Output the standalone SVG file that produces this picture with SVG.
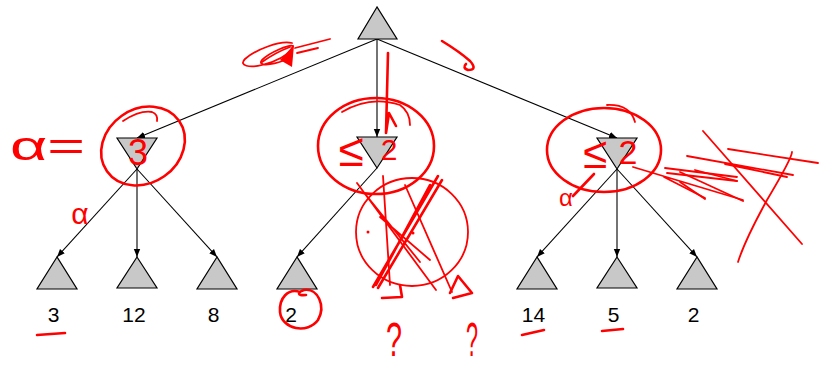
<svg xmlns="http://www.w3.org/2000/svg" width="819" height="369" viewBox="0 0 819 369">
<style>
.tri{fill:#c8c8c8;stroke:#000;stroke-width:1.2;stroke-linejoin:miter}
.edge{fill:none;stroke:#000;stroke-width:1.1;marker-end:url(#ah)}
.lbl{font-family:"Liberation Sans",Arial,sans-serif;font-size:21px;fill:#000;text-anchor:middle}
.ink{fill:none;stroke:#f00;stroke-width:2.6;stroke-linecap:round;stroke-linejoin:round}
.thin{fill:none;stroke:#f00;stroke-width:1.8;stroke-linecap:round;stroke-linejoin:round}
.hw{font-family:"Liberation Sans",Arial,sans-serif;fill:#f00}
</style>
<defs>
<marker id="ah" viewBox="0 0 10 10" refX="10" refY="5" markerWidth="8" markerHeight="8" markerUnits="userSpaceOnUse" orient="auto"><path d="M0,1 L10,5 L0,9 z" fill="#000"/></marker>
</defs>
<g id="connectors">
<line class="edge" x1="377" y1="39" x2="137" y2="138"/>
<line class="edge" x1="377" y1="39" x2="377" y2="137"/>
<line class="edge" x1="377" y1="39" x2="617" y2="138"/>
<line class="edge" x1="137" y1="169" x2="57" y2="257"/>
<line class="edge" x1="137" y1="169" x2="137" y2="257"/>
<line class="edge" x1="137" y1="169" x2="217" y2="257"/>
<line class="edge" x1="377" y1="168" x2="297" y2="257"/>
<line class="edge" x1="617" y1="169" x2="537" y2="257"/>
<line class="edge" x1="617" y1="169" x2="617" y2="257"/>
<line class="edge" x1="617" y1="169" x2="697" y2="257"/>
</g>
<g id="root"><polygon class="tri" points="377,7 358,39 397,39"/></g>
<g id="min-left"><polygon class="tri" points="117,138 157,138 137,169"/></g>
<g id="min-mid"><polygon class="tri" points="357,137 397,137 377,168"/></g>
<g id="min-right"><polygon class="tri" points="597,138 637,138 617,169"/></g>
<g id="leaf1"><polygon class="tri" points="57,257 37,289 77,289"/><text class="lbl" x="53.5" y="322">3</text></g>
<g id="leaf2"><polygon class="tri" points="137,257 117,288 157,288"/><text class="lbl" x="134" y="322">12</text></g>
<g id="leaf3"><polygon class="tri" points="217,257 197,289 237,289"/><text class="lbl" x="213.5" y="322">8</text></g>
<g id="leaf4"><polygon class="tri" points="297,257 277,289 317,289"/><text class="lbl" x="291" y="322">2</text></g>
<g id="leaf5"><polygon class="tri" points="537,257 517,289 557,289"/><text class="lbl" x="533.5" y="322">14</text></g>
<g id="leaf6"><polygon class="tri" points="617,257 597,288 637,288"/><text class="lbl" x="613.5" y="322">5</text></g>
<g id="leaf7"><polygon class="tri" points="697,257 677,289 717,289"/><text class="lbl" x="693.5" y="322">2</text></g>
<g id="annotations">
<path class="thin" d="M292,43 C280,40 255,50 245,59 C238,66 250,68 262,65 C275,62 290,55 293,46 C290,44 270,52 262,60 C257,66 270,66 285,60"/>
<path class="thin" d="M262,62 C272,55 282,50 290,47 M295,48 L330,39 M297,53 L318,48"/>
<polygon points="280,60 294,45 292,67" fill="#f00"/>
<path class="ink" d="M442,41 Q460,52 470,61 Q478,70 468,70 Q462,68 466,64"/>
<path class="ink" d="M388,53 L386,133 L389,113 L396,126"/>
<ellipse class="ink" cx="143" cy="146" rx="44" ry="37" transform="rotate(-35 143 146)"/>
<path class="thin" d="M123,121 Q140,110 152,112 Q158,114 157,121"/>
<text class="hw" x="10" y="160" font-size="40" textLength="75" lengthAdjust="spacingAndGlyphs">α=</text>
<text class="hw" x="138" y="165" font-size="36" text-anchor="middle">3</text>
<text class="hw" x="80" y="224" font-size="30" text-anchor="middle">α</text>
<ellipse class="ink" cx="376" cy="146" rx="58" ry="48"/>
<path class="thin" d="M342,112 Q370,95 400,105 Q410,112 410,125"/>
<text class="hw" x="351" y="166" font-size="46" text-anchor="middle">≤</text>
<text class="hw" x="389" y="160" font-size="30" text-anchor="middle">2</text>
<ellipse class="ink" cx="604" cy="150" rx="57" ry="42"/>
<path class="thin" d="M607,105 Q630,104 635,122"/>
<text class="hw" x="595" y="168" font-size="44" text-anchor="middle">≤</text>
<text class="hw" x="628" y="164" font-size="34" text-anchor="middle">2</text>
<text class="hw" x="566" y="206" font-size="24" text-anchor="middle">α</text>
<path class="ink" d="M573,196 L594,174"/>
<ellipse class="thin" cx="412" cy="232" rx="56" ry="54"/>
<path class="ink" d="M438,176 L373,287 M442,180 L378,288 M430,185 L376,285"/>
<path class="thin" d="M357,183 L436,290 M383,176 L390,285 M405,185 L452,292 M380,217 L430,260 M362,190 L420,262"/>
<path class="ink" d="M450,293 L458,276 L472,293 L453,298"/>
<path class="ink" d="M400,285 L402,297 L382,298"/>
<circle cx="368" cy="232" r="1.5" fill="#f00"/>
<circle cx="413" cy="233" r="1.5" fill="#f00"/>
<path class="thin" d="M633,167 L743,200 M665,168 L737,177 M667,173 L737,181 M664,177 L705,198"/>
<path class="thin" d="M687,156 L793,175 M728,149 L818,163 M725,164 L787,177 M695,170 L737,181 M680,172 L743,201 M680,182 L705,199"/>
<path class="thin" d="M703,131 L802,244 M792,152 Q792,158 767,200 Q745,240 738,262"/>
<path class="ink" d="M300,292 C288,288 279,298 280,312 C282,330 308,334 318,320 C326,306 318,288 304,290 C298,292 296,296 306,295"/>
<path class="ink" d="M37,335 L65,333" stroke-width="3.5"/>
<path class="ink" d="M522,335 L544,330" stroke-width="3.5"/>
<path class="ink" d="M602,331 L623,329" stroke-width="3.5"/>
<text class="hw" font-size="48" text-anchor="middle" transform="translate(394,356) scale(0.6,1)">?</text>
<text class="hw" font-size="48" text-anchor="middle" transform="translate(472,356) scale(0.45,1)">?</text>
</g>
</svg>
